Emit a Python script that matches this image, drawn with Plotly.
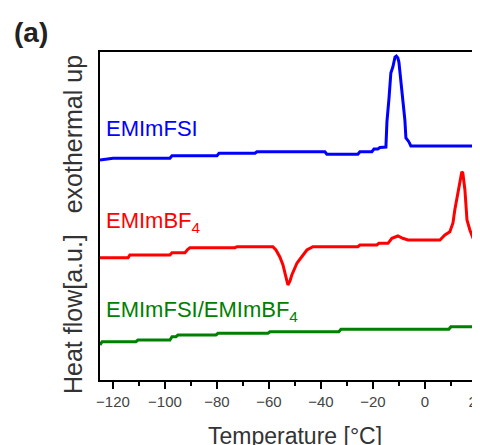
import plotly.graph_objects as go

# Temperature [°C] and heat flow [a.u.]
fsi_T = [-125.0, -120.4, -120.0, -98.1, -97.3, -80.0, -79.2, -65.4, -64.6, -38.5, -37.7, -25.8,
         -25.0, -20.4, -19.6, -18.1, -17.3, -15.0, -14.6, -13.8, -13.1, -12.3, -11.5, -11.0,
         -10.4, -10.0, -9.2, -8.5, -7.7, -7.3, -6.2, -5.4, 21.2]
fsi_Y = [22.0, 22.1, 22.17, 22.17, 22.43, 22.43, 22.67, 22.67, 22.83, 22.83, 22.57, 22.57,
         22.83, 22.83, 23.1, 23.1, 23.25, 23.3, 25.83, 28.2, 30.7, 31.33, 32.3, 32.4,
         32.2, 31.8, 30.0, 28.2, 26.0, 24.2, 23.83, 23.4, 23.4]

bf4_T = [-125.0, -114.2, -113.5, -98.1, -97.3, -92.3, -91.2, -90.4, -73.1, -72.3, -58.5, -57.3,
         -55.8, -54.6, -53.5, -52.7, -51.9, -51.2, -49.2, -47.3, -45.4, -43.1, -25.8, -25.0,
         -18.5, -17.7, -14.2, -12.7, -10.4, -8.5, -6.5, 5.8, 7.7, 9.6, 10.8, 11.5, 12.7, 13.5,
         14.2, 14.6, 15.4, 16.2, 17.3, 18.5, 20.0, 21.2]
bf4_Y = [12.23, 12.23, 12.5, 12.5, 12.73, 12.73, 13.07, 13.23, 13.23, 13.33, 13.33, 13.0,
         12.3, 11.5, 10.33, 9.5, 9.9, 10.5, 11.7, 12.33, 13.0, 13.33, 13.33, 13.5,
         13.5, 13.67, 13.67, 14.17, 14.4, 14.17, 14.0, 14.0, 14.5, 14.83, 15.7, 17.0, 18.7, 19.7,
         20.83, 20.7, 19.0, 16.0, 15.0, 14.2, 13.95, 13.95]

mix_T = [-125.0, -124.2, -111.2, -110.4, -98.1, -97.3, -95.8, -95.0, -80.4, -79.6, -60.4, -59.6,
         -33.1, -32.3, 9.2, 10.0, 21.2]
mix_Y = [3.5, 3.83, 3.83, 4.0, 4.0, 4.33, 4.33, 4.5, 4.5, 4.67, 4.67, 4.83,
         4.83, 5.07, 5.07, 5.33, 5.33]

names = ["EMImFSI", "EMImBF<sub>4</sub>", "EMImFSI/EMImBF<sub>4</sub>"]
colors = ["#0000FF", "#FF0000", "#008000"]
x_ticks = [-120, -100, -80, -60, -40, -20, 0, 20]

fig = go.Figure()
for T, Y, c in [(fsi_T, fsi_Y, colors[0]), (bf4_T, bf4_Y, colors[1]), (mix_T, mix_Y, colors[2])]:
    fig.add_trace(go.Scatter(x=T, y=Y, mode="lines", line=dict(color=c, width=3),
                             showlegend=False, hoverinfo="skip"))

FONT = "Liberation Sans, Arial, sans-serif"

# the page body adds an 8px offset; margins compensate so the plot area sits at 100..480, 52..380
fig.update_layout(
    width=480, height=445,
    margin=dict(l=92, r=8, t=44, b=73, autoexpand=False),
    paper_bgcolor="white", plot_bgcolor="white",
    font=dict(family=FONT),
    xaxis=dict(range=[-125, 21.2], tickvals=x_ticks, ticks="outside", ticklen=7, tickwidth=1.5,
               tickcolor="black", showline=True, linecolor="black", linewidth=2, mirror=True,
               showgrid=False, zeroline=False, automargin=False,
               tickfont=dict(size=15, color="#444444", family=FONT),
               minor=dict(dtick=10, tick0=0, ticks="outside", ticklen=4, tickwidth=1.5,
                          tickcolor="black", showgrid=False)),
    yaxis=dict(range=[0, 32.8], showticklabels=False, ticks="", showline=True, automargin=False,
               linecolor="black", linewidth=2, mirror=False, showgrid=False, zeroline=False),
)

# series labels
label_pos = [(-123.5, 25.2), (-123.5, 15.8), (-123.5, 6.9)]
for (tx, ty), n, c in zip(label_pos, names, colors):
    fig.add_annotation(x=tx, y=ty, xref="x", yref="y", text=n, showarrow=False,
                       xanchor="left", yanchor="middle", font=dict(size=22, color=c, family=FONT))

fig.add_annotation(x=0.513, y=-0.171, xref="paper", yref="paper", text="Temperature [°C]",
                   showarrow=False, xanchor="center", yanchor="middle",
                   font=dict(size=23, color="#333333", family=FONT))
fig.add_annotation(x=-0.071, y=0.4726, xref="paper", yref="paper",
                   text="Heat flow[a.u.]\u00a0\u00a0\u00a0exothermal up", textangle=-90,
                   showarrow=False, xanchor="center", yanchor="middle",
                   font=dict(size=25, color="#333333", family=FONT))
fig.add_annotation(x=-0.2316, y=1.058, xref="paper", yref="paper", text="<b>(a)</b>",
                   showarrow=False, xanchor="left", yanchor="middle",
                   font=dict(size=28, color="#222222", family=FONT))

fig.write_html("out.html")
